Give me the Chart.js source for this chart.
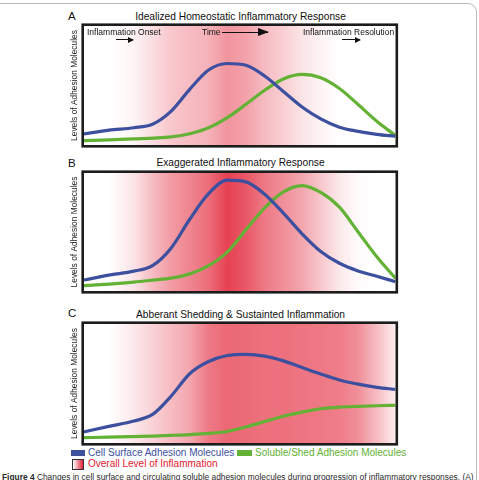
<!DOCTYPE html>
<html>
<head>
<meta charset="utf-8">
<script src="https://cdn.jsdelivr.net/npm/chart.js@4"></script>
<style>
  body { margin: 0; width: 479px; height: 480px; overflow: hidden; background: #fff; position: relative; font-family: "Liberation Sans", Arial, sans-serif; }
  #frame { position: absolute; left: -12px; top: 3px; width: 487px; height: 600px; border: 1px solid #b8b8b8; border-radius: 9px; }
  .panel { position: absolute; left: 0; width: 479px; }
  .letter { position: absolute; left: 68px; font-size: 11.5px; color: #111; }
  .title { position: absolute; left: 0; width: 479px; text-align: center; font-size: 10.2px; color: #111; white-space: nowrap; }
  .title span { position: relative; left: 1px; }
  .note { position: absolute; font-size: 8.5px; color: #111; white-space: nowrap; }
  .arrow { position: absolute; height: 1.2px; background: #111; }
  .arrow::after { content: ""; position: absolute; right: -1px; top: -2.4px; border-left: 6px solid #111; border-top: 3px solid transparent; border-bottom: 3px solid transparent; }
  .arrow.big { height: 1.6px; }
  .arrow.big::after { top: -3.7px; border-left: 11px solid #111; border-top: 4.5px solid transparent; border-bottom: 4.5px solid transparent; }
  .legend { position: absolute; font-size: 10px; white-space: nowrap; }
  .sw { position: absolute; }
  #caption { position: absolute; left: 2px; top: 472px; font-size: 8.4px; color: #2a2a2a; white-space: nowrap; }
</style>
</head>
<body>
<div id="frame"></div>

<div class="letter" style="top:10px">A</div>
<div class="title" style="top:11px"><span>Idealized Homeostatic Inflammatory Response</span></div>
<div class="panel" style="top:22px;height:127px"><canvas id="chartA"></canvas></div>
<div class="note" style="left:87px;top:27px">Inflammation Onset</div>
<div class="arrow" style="left:116px;top:39px;width:17px"></div>
<div class="note" style="left:202px;top:27px">Time</div>
<div class="arrow big" style="left:222px;top:31.5px;width:46px"></div>
<div class="note" style="left:303px;top:27px">Inflammation Resolution</div>
<div class="arrow" style="left:342px;top:39px;width:18px"></div>

<div class="letter" style="top:157px">B</div>
<div class="title" style="top:157px"><span>Exaggerated Inflammatory Response</span></div>
<div class="panel" style="top:169px;height:126px"><canvas id="chartB"></canvas></div>

<div class="letter" style="top:307px">C</div>
<div class="title" style="top:309px"><span>Abberant Shedding &amp; Sustainted Inflammation</span></div>
<div class="panel" style="top:320px;height:127px"><canvas id="chartC"></canvas></div>

<div class="sw" style="left:71px;top:450px;width:14px;height:6px;background:#3d4f9f"></div>
<div class="legend" style="left:88px;top:447px;color:#3d4f9f">Cell Surface Adhesion Molecules</div>
<div class="sw" style="left:237px;top:450px;width:15px;height:6px;background:#63b235"></div>
<div class="legend" style="left:255px;top:447px;color:#63b235">Soluble/Shed Adhesion Molecules</div>
<div class="sw" style="left:72px;top:459px;width:10px;height:9px;border:1px solid #333;background:linear-gradient(to right,#fff,#e2203a)"></div>
<div class="legend" style="left:88px;top:458px;color:#e2202e">Overall Level of Inflammation</div>

<div id="caption"><b>Figure 4</b> Changes in cell surface and circulating soluble adhesion molecules during progression of inflammatory responses. (A)</div>

<script>
//Data
const timeAxis = [0, 8, 16, 22, 28, 34, 40, 46, 52, 58, 64, 70, 76, 82, 88, 94, 100];

const surfaceA = [9.3, 12.5, 14.5, 17.5, 28.5, 47, 63, 68.5, 67, 58, 45, 32, 22, 15, 11.5, 9, 7.3];
const shedA = [3.7, 4.3, 5.1, 5.8, 6.8, 9.5, 14.5, 23, 34.2, 46, 55.5, 59.3, 56.5, 47.5, 34, 20, 7.9];
const inflamA = [0, 0, 0.05, 0.15, 0.25, 0.3, 0.35, 0.48, 0.42, 0.3, 0.22, 0.12, 0.05, 0, 0, 0, 0];

const surfaceB = [9.3, 13.5, 16.8, 21.5, 36.5, 61, 82.5, 94, 92.5, 82, 66, 48.5, 33.5, 23.5, 17, 12.5, 7.9];
const shedB = [4.5, 5.9, 7.6, 9.2, 10.9, 14.5, 21.5, 33, 52, 70.5, 84, 89.3, 83.5, 71, 50, 29, 10.7];
const inflamB = [0, 0, 0.12, 0.3, 0.45, 0.55, 0.65, 0.85, 0.75, 0.6, 0.5, 0.4, 0.25, 0.1, 0.02, 0, 0];

const surfaceC = [9.3, 14, 18.5, 24, 39.5, 58.4, 68.5, 73.5, 74.5, 73, 69, 63.5, 58, 53, 49.5, 46.8, 45];
const shedC = [4.5, 4.9, 5.4, 5.8, 6.4, 7.1, 8.1, 9.7, 13.5, 18, 22.5, 26, 28.8, 30.2, 30.8, 31.3, 31.7];
const inflamC = [0, 0, 0.1, 0.2, 0.3, 0.4, 0.6, 0.68, 0.66, 0.64, 0.64, 0.62, 0.6, 0.58, 0.5, 0.3, 0.08];

const yLabel = 'Levels of Adhesion Molecules';
const blue = '#3d4f9f';
const green = '#63b235';

//Plugins

/**
 * Paints the inflammation level as a horizontal red gradient behind the lines.
 */
const inflammationBand = {
    id: 'inflammationBand',
    beforeDatasetsDraw(chart, args, opts) {
        const { ctx, chartArea, scales } = chart;
        const { left, right, top, bottom } = chartArea;
        const grad = ctx.createLinearGradient(left, 0, right, 0);
        opts.levels.forEach((v, i) => {
            let px = scales.x.getPixelForValue(timeAxis[i]);
            grad.addColorStop((px - left) / (right - left), `rgba(226, 32, 52, ${v})`);
        });
        ctx.save();
        ctx.fillStyle = grad;
        ctx.fillRect(left, top, right - left, bottom - top);
        ctx.restore();
    }
};

/**
 * Thick black box round the plot area.
 */
const boxBorder = {
    id: 'boxBorder',
    afterDraw(chart) {
        const { ctx, chartArea } = chart;
        ctx.save();
        ctx.strokeStyle = '#1c1c1c';
        ctx.lineWidth = 2.6;
        ctx.strokeRect(chartArea.left - 1.3, chartArea.top - 1.3,
            chartArea.right - chartArea.left + 2.6, chartArea.bottom - chartArea.top + 2.6);
        ctx.restore();
    }
};

function toPoints(values) {
    return values.map((v, i) => ({ x: timeAxis[i], y: v }));
}

function makePanel(id, surface, shed, inflam) {
    return new Chart(document.getElementById(id), {
        type: 'line',
        data: {
            datasets: [{
                label: 'Cell Surface Adhesion Molecules',
                data: toPoints(surface),
                borderColor: blue,
                borderWidth: 3.2,
                pointRadius: 0,
                cubicInterpolationMode: 'monotone'
            }, {
                label: 'Soluble/Shed Adhesion Molecules',
                data: toPoints(shed),
                borderColor: green,
                borderWidth: 3.2,
                pointRadius: 0,
                cubicInterpolationMode: 'monotone'
            }]
        },
        options: {
            responsive: true,
            maintainAspectRatio: false,
            animation: false,
            layout: { padding: { left: 70, right: 83.5, top: 4, bottom: 4 } },
            scales: {
                x: { type: 'linear', min: 0, max: 100, display: false },
                y: {
                    min: 0, max: 100,
                    grid: { display: false },
                    border: { display: false },
                    ticks: { display: false },
                    title: {
                        display: true,
                        text: yLabel,
                        color: '#222',
                        padding: 0,
                        font: { family: 'Liberation Sans', size: 8.4 }
                    },
                    afterFit: (scale) => { scale.width = 14; }
                }
            },
            plugins: {
                legend: { display: false },
                tooltip: { enabled: false },
                inflammationBand: { levels: inflam }
            }
        },
        plugins: [inflammationBand, boxBorder]
    });
}

makePanel('chartA', surfaceA, shedA, inflamA);
makePanel('chartB', surfaceB, shedB, inflamB);
makePanel('chartC', surfaceC, shedC, inflamC);
</script>
</body>
</html>
